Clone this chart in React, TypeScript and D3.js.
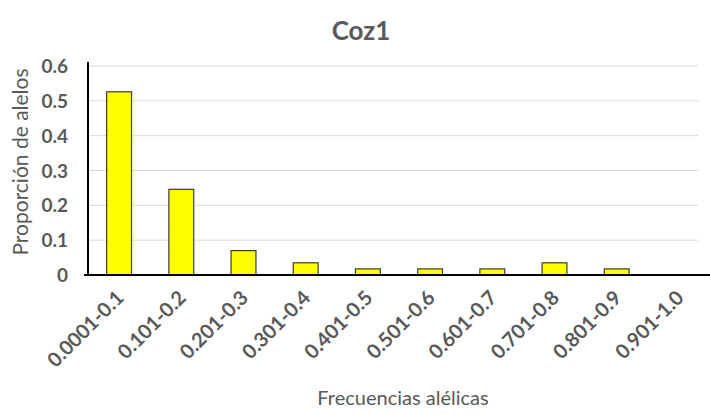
import React from "react";
import * as d3 from "d3";

const categories = [
  "0.0001-0.1", "0.101-0.2", "0.201-0.3", "0.301-0.4", "0.401-0.5",
  "0.501-0.6", "0.601-0.7", "0.701-0.8", "0.801-0.9", "0.901-1.0",
];
const proportions = [0.526, 0.246, 0.07, 0.035, 0.0175, 0.0175, 0.0175, 0.035, 0.0175, 0];
const yTicks = [0, 0.1, 0.2, 0.3, 0.4, 0.5, 0.6];

const W = 710;
const H = 414;
const margin = { left: 88, right: 0, top: 66, bottom: 139 };
const font = "Lato, 'Open Sans', sans-serif";
const gray = "#595959";

export default function App() {
  const x = d3
    .scaleBand<string>()
    .domain(categories)
    .range([margin.left, W - margin.right])
    .paddingInner(0.6)
    .paddingOuter(0.3);
  const y = d3.scaleLinear().domain([0, 0.6]).range([H - margin.bottom, margin.top]);
  const fmt = (v: number) => (v === 0 ? "0" : d3.format(".1f")(v));

  return (
    <svg
      width={W}
      height={H}
      style={{ position: "absolute", left: 0, top: 0, background: "#fff" }}
    >
      <text x={361} y={40} textAnchor="middle" fontFamily={font} fontWeight={700} fontSize={26} fill={gray}>
        Coz1
      </text>

      {yTicks.map((t) => (
        <g key={t}>
          {t > 0 && (
            <line x1={margin.left} x2={698} y1={y(t)} y2={y(t)} stroke="#d9d9d9" strokeWidth={1} />
          )}
          <text x={68} y={y(t) + 7} textAnchor="end" fontFamily={font} fontWeight={700} fontSize={19} fill={gray}>
            {fmt(t)}
          </text>
        </g>
      ))}

      {categories.map((c, i) => (
        <rect
          key={c}
          x={x(c)!}
          y={y(proportions[i])}
          width={x.bandwidth()}
          height={y(0) - y(proportions[i])}
          fill="#ffff00"
          stroke="#3a3a3a"
          strokeWidth={1.2}
        />
      ))}

      <line x1={margin.left} x2={margin.left} y1={62} y2={y(0)} stroke="#000" strokeWidth={2} />
      <line x1={84} x2={W} y1={y(0)} y2={y(0)} stroke="#000" strokeWidth={2} />

      {categories.map((c) => {
        const cx = x(c)! + x.bandwidth() / 2 + 6;
        return (
          <text
            key={c}
            transform={`translate(${cx},${299}) rotate(-45)`}
            textAnchor="end"
            fontFamily={font}
            fontWeight={700}
            fontSize={20}
            fill={gray}
          >
            {c}
          </text>
        );
      })}

      <text
        transform={`translate(28,${162}) rotate(-90)`}
        textAnchor="middle"
        fontFamily={font}
        fontSize={21}
        fill={gray}
      >
        Proporción de alelos
      </text>
      <text x={403} y={405} textAnchor="middle" fontFamily={font} fontSize={20} fill={gray}>
        Frecuencias alélicas
      </text>
    </svg>
  );
}
